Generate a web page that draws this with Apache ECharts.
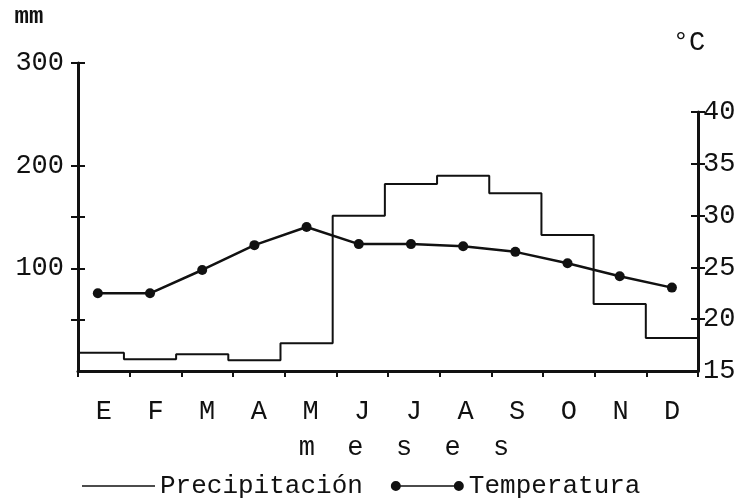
<!DOCTYPE html>
<html>
<head>
<meta charset="utf-8">
<script src="https://cdn.jsdelivr.net/npm/echarts@6/dist/echarts.min.js"></script>
<style>
html,body{margin:0;padding:0;background:#fff;}
#c{width:747px;height:501px;}
</style>
</head>
<body>
<div id="c"></div>
<script>
const months = ['E','F','M','A','M','J','J','A','S','O','N','D'];
const precip = [17.8, 11.4, 16.3, 10.4, 27.0, 151.3, 182.1, 190.2, 173.1, 132.5, 65.3, 32.1];
const temp = [22.5, 22.5, 24.75, 27.15, 28.9, 27.25, 27.25, 27.05, 26.5, 25.4, 24.15, 23.05];
const mmLabels = [100, 200, 300];
const mmTicks = [50, 100, 150, 200, 300];
const tempLabels = [15, 20, 25, 30, 35, 40];
const tempTicks = [20, 25, 30, 35, 40];

const FONT = 'Liberation Mono';
const INK = '#111';

const chart = echarts.init(document.getElementById('c'), null, {renderer: 'canvas'});

const stepData = precip.map((v, i) => [i, v]);
stepData.push([precip.length, precip[precip.length - 1]]);
stepData.push([precip.length, 0]);

const tempData = temp.map((v, i) => [i + 0.5, v]);

const iconLine = 'path://M0,0M73,12M0,5.2L73,5.2L73,6.8L0,6.8Z';
const iconDots = 'path://M0,0M73,12M0,6A5,5,0,1,1,10,6A5,5,0,1,1,0,6ZM5,5.2L68,5.2L68,6.8L5,6.8ZM63,6A5,5,0,1,1,73,6A5,5,0,1,1,63,6Z';

const option = {
  animation: false,
  backgroundColor: '#fff',
  textStyle: {fontFamily: FONT, color: INK},
  grid: [
    {left: 78, right: 49, top: 63, bottom: 130},
    {left: 78, right: 49, top: 112, bottom: 130}
  ],
  xAxis: [
    {
      type: 'category', gridIndex: 0, data: months, boundaryGap: true,
      axisLine: {lineStyle: {color: INK, width: 3}},
      axisTick: {show: true, length: 6, lineStyle: {color: INK, width: 2}},
      axisLabel: {interval: 0, fontSize: 27, margin: 27, color: INK, fontFamily: FONT},
      splitLine: {show: false},
      name: 'm  e  s  e  s', nameLocation: 'middle', nameGap: 63,
      nameTextStyle: {fontSize: 27, color: INK, fontFamily: FONT, padding: [0, 0, 0, 32]}
    },
    {type: 'value', gridIndex: 0, min: 0.12, max: 12, show: false},
    {type: 'value', gridIndex: 1, min: 0.12, max: 12, show: false}
  ],
  yAxis: [
    {
      type: 'value', gridIndex: 0, position: 'left', min: 0, max: 300, interval: 50,
      splitLine: {show: false},
      axisLine: {show: true, lineStyle: {color: INK, width: 3}},
      axisTick: {show: true, length: 7, lineStyle: {color: INK, width: 2}, customValues: mmTicks},
      axisLabel: {customValues: mmLabels, fontSize: 27, margin: 14, color: INK, fontFamily: FONT,
        formatter: v => (v % 100 === 0 && v > 0) ? String(v) : ''},
      name: 'mm', nameLocation: 'end', nameGap: 34,
      nameTextStyle: {fontSize: 24, fontWeight: 'bold', color: INK, fontFamily: FONT, padding: [0, 98, 0, 0]}
    },
    {
      type: 'value', gridIndex: 0, position: 'left', min: 0, max: 300, interval: 50,
      splitLine: {show: false}, axisLine: {show: false}, axisLabel: {show: false},
      axisTick: {show: true, inside: true, length: 7, lineStyle: {color: INK, width: 2}, customValues: mmTicks}
    },
    {
      type: 'value', gridIndex: 1, position: 'right', min: 15, max: 40, interval: 5,
      splitLine: {show: false},
      axisLine: {show: true, lineStyle: {color: INK, width: 3}},
      axisTick: {show: true, length: 7, lineStyle: {color: INK, width: 2}, customValues: tempTicks},
      axisLabel: {customValues: tempLabels, fontSize: 27, margin: 5, color: INK, fontFamily: FONT},
      name: '°C', nameLocation: 'end', nameGap: 56,
      nameTextStyle: {fontSize: 27, color: INK, fontFamily: FONT, padding: [0, 18, 0, 0]}
    },
    {
      type: 'value', gridIndex: 1, position: 'right', min: 15, max: 40, interval: 5,
      splitLine: {show: false}, axisLine: {show: false}, axisLabel: {show: false},
      axisTick: {show: true, inside: true, length: 7, lineStyle: {color: INK, width: 2}, customValues: tempTicks}
    }
  ],
  legend: {
    left: 77, top: 468, itemWidth: 73, itemHeight: 12, itemGap: 28,
    selectedMode: false,
    textStyle: {fontSize: 26, color: INK, fontFamily: FONT},
    itemStyle: {borderWidth: 0},
    data: [
      {name: 'Precipitación', icon: iconLine},
      {name: 'Temperatura', icon: iconDots}
    ]
  },
  series: [
    {
      type: 'line', name: 'Precipitación', xAxisIndex: 1, yAxisIndex: 0,
      step: 'end', symbol: 'none', data: stepData,
      lineStyle: {color: INK, width: 2}, itemStyle: {color: INK}
    },
    {
      type: 'line', name: 'Temperatura', xAxisIndex: 2, yAxisIndex: 2,
      symbol: 'circle', symbolSize: 10, data: tempData,
      lineStyle: {color: INK, width: 2.5}, itemStyle: {color: INK}
    }
  ]
};
chart.setOption(option);
</script>
</body>
</html>
